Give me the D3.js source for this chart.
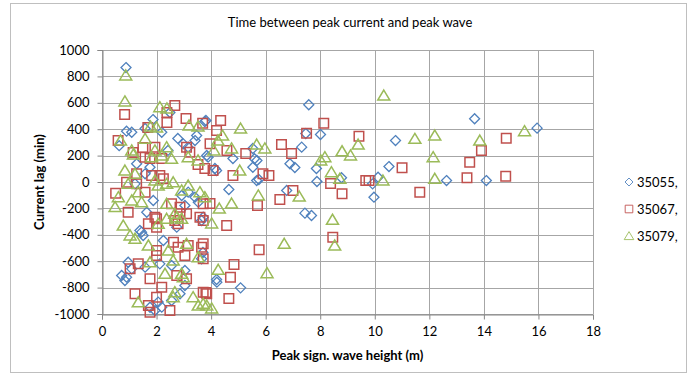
<!DOCTYPE html>
<html>
<head>
<meta charset="utf-8">
<script src="https://cdn.jsdelivr.net/npm/d3@7"></script>
<style>
  body { margin: 0; background: #fff; }
  text { font-family: Lato, "Open Sans", sans-serif; fill: #000; }
</style>
</head>
<body>
<svg id="chart" width="696" height="381"></svg>
<script>
// series values: [peak sign. wave height (m), current lag (min)]
const s35055 = [
  [7.58, 585], [7.47, 367], [8.01, 360], [7.32, 264], [5.53, 254], [5.59, 176], [5.68, 163],
  [4.80, 178], [4.20, 87], [5.53, 112], [5.67, 11], [5.75, 19], [6.89, 138], [7.07, 110],
  [7.86, 102], [7.88, 4], [6.77, -64], [4.65, -57], [7.44, -236], [7.68, -254], [4.20, -739],
  [4.21, -759], [5.08, -802], [3.70, -534], [3.81, 466], [13.66, 479], [15.95, 408], [10.76, 314],
  [10.52, 117], [10.12, 36], [9.92, -14], [9.97, -115], [12.63, 11], [14.09, 11], [8.78, 32],
  [0.88, 867], [2.49, 526], [1.87, 473], [2.19, 377], [0.90, 385], [1.09, 377], [1.58, 405],
  [0.63, 275], [2.78, 330], [3.47, 352], [3.84, 201], [4.14, 102], [2.42, 239], [3.77, 458],
  [3.41, 314], [2.98, 289], [3.16, 264], [1.58, 62], [1.76, 112], [1.27, 138], [3.16, -77],
  [3.41, -115], [3.53, -153], [3.04, -178], [3.89, 188], [1.21, -14], [1.64, -229], [1.39, -367],
  [1.51, -405], [2.74, -342], [3.65, -292], [2.25, -443], [0.96, -608], [3.65, -582], [0.72, -708],
  [0.84, -746], [1.09, -658], [1.58, -645], [2.12, -620], [2.55, -633], [3.04, -784], [2.86, -847],
  [2.55, -898], [1.76, -949], [1.94, -974], [1.88, -140], [1.45, -380], [2.92, -102], [3.71, -267],
  [0.90, -721], [3.04, -670], [2.06, -910], [2.19, -948]
];
const s35067 = [
  [4.35, 466], [4.20, 390], [3.96, 289], [4.58, 239], [5.27, 216], [6.58, 284], [6.95, 216],
  [7.50, 370], [8.13, 445], [4.07, 87], [4.80, 49], [5.90, 62], [6.12, 49], [7.00, -64],
  [6.52, -133], [5.70, -178], [3.96, -163], [4.57, -330], [5.76, -514], [4.84, -625], [4.71, -721],
  [4.65, -883], [3.81, -837], [3.71, -582], [3.71, -468], [8.38, -11], [8.46, -418], [9.42, 347],
  [13.91, 239], [14.82, 332], [13.48, 150], [11.00, 108], [9.67, 11], [9.79, 11], [13.38, 32],
  [14.80, 44], [11.65, -77], [8.80, -89], [0.83, 511], [2.67, 580], [2.38, 527], [2.38, 451],
  [3.08, 481], [1.68, 413], [3.69, 445], [0.59, 314], [3.10, 264], [3.52, 133], [3.77, 102],
  [1.14, 223], [1.50, 261], [1.76, 178], [2.19, 178], [1.94, 264], [1.58, 188], [3.22, 226],
  [0.50, -85], [1.27, -14], [1.82, 49], [2.12, 49], [1.58, -77], [2.55, -165], [2.25, 24],
  [0.96, -229], [1.70, -317], [2.00, -279], [2.00, -342], [2.67, -292], [2.86, -241], [2.79, -317],
  [3.59, -267], [2.00, -519], [2.79, -494], [3.16, -481], [3.65, -494], [1.33, -620], [3.04, -557],
  [1.03, -658], [1.21, -847], [1.76, -733], [2.00, -873], [2.19, -797], [2.74, -708], [3.10, -733],
  [1.76, -986], [2.49, -974], [1.70, -936], [0.90, -2], [1.27, 62], [1.94, -267], [2.86, -191],
  [3.10, -241], [3.71, -165], [3.71, -292], [3.84, -847], [2.62, -456], [2.00, -557], [3.71, -835]
];
const s35079 = [
  [5.08, 405], [4.42, 352], [4.10, 239], [4.75, 254], [5.67, 284], [5.97, 254], [5.05, 87],
  [5.73, -102], [7.23, -110], [4.75, -163], [4.30, -201], [4.02, -314], [6.68, -468], [6.05, -691],
  [4.26, -665], [3.84, -936], [4.02, -958], [8.17, 188], [8.02, 163], [8.41, 74], [8.45, -286],
  [8.53, -481], [10.33, 655], [11.47, 327], [12.20, 352], [13.85, 314], [15.49, 385], [8.80, 233],
  [9.11, 201], [9.39, 284], [12.14, 188], [12.20, 24], [10.30, 11], [8.72, 24], [0.87, 807],
  [0.84, 610], [2.12, 567], [2.38, 557], [1.78, 420], [2.00, 413], [3.19, 428], [3.52, 420],
  [0.68, 314], [4.25, 314], [1.94, 239], [1.58, 327], [2.37, 264], [1.09, 239], [1.15, 208],
  [1.82, 188], [2.19, 201], [2.55, 176], [0.84, 87], [1.21, 62], [0.96, -14], [1.33, -77],
  [1.94, 11], [2.06, -27], [2.37, -14], [2.61, -2], [3.59, -77], [3.77, -115], [2.92, -64],
  [3.16, -27], [0.48, -190], [0.60, -115], [1.09, -140], [3.16, 188], [3.52, 163], [0.78, -330],
  [1.03, -405], [1.21, -430], [1.70, -481], [2.06, -317], [2.37, -279], [2.74, -267], [2.92, -279],
  [2.43, -519], [2.61, -595], [3.10, -468], [1.76, -608], [3.53, -570], [1.33, -911], [2.31, -695],
  [2.98, -721], [2.67, -835], [3.34, -873], [3.53, -936], [2.37, -165], [2.67, -241], [2.92, -695],
  [2.61, -873], [3.71, -923], [1.45, -153]
];

const seriesNames = ["35055,", "35067,", "35079,"];
const xTicks = d3.range(0, 19, 2);
const yTicks = d3.range(-1000, 1001, 200);

const svg = d3.select("#chart");
const m = { left: 102, right: 593, top: 50, bottom: 314 };

const x = d3.scaleLinear().domain([0, 18]).range([m.left, m.right]);
const y = d3.scaleLinear().domain([-1000, 1000]).range([m.bottom, m.top]);

// outer chart border
svg.append("rect")
  .attr("x", 10.5).attr("y", 3.5)
  .attr("width", 676).attr("height", 369)
  .attr("fill", "none")
  .attr("stroke", "#bfbfbf");

svg.append("text")
  .attr("x", 350).attr("y", 27)
  .attr("text-anchor", "middle")
  .style("font-size", "13px")
  .text("Time between peak current and peak wave");

// gridlines
const grid = svg.append("g").attr("stroke", "#a6a6a6").attr("stroke-width", 1);
grid.selectAll("line.h").data(yTicks).join("line")
  .attr("x1", m.left).attr("x2", m.right)
  .attr("y1", d => Math.round(y(d)) + 0.5).attr("y2", d => Math.round(y(d)) + 0.5);
grid.selectAll("line.v").data(xTicks).join("line")
  .attr("y1", m.top).attr("y2", m.bottom)
  .attr("x1", d => Math.round(x(d)) + 0.5).attr("x2", d => Math.round(x(d)) + 0.5);

// axes
const yAxis = svg.append("g")
  .attr("transform", `translate(${m.left + 0.5},0)`)
  .call(d3.axisLeft(y).tickValues(yTicks).tickSize(5).tickPadding(8).tickFormat(d => String(d)));
const xAxis = svg.append("g")
  .attr("transform", `translate(0,${m.bottom + 0.5})`)
  .call(d3.axisBottom(x).tickValues(xTicks).tickSize(5).tickPadding(7).tickFormat(d => String(d)));
[yAxis, xAxis].forEach(a => {
  a.selectAll("path, line").attr("stroke", "#868686");
  a.selectAll("text").style("font-size", "13px").attr("fill", "#000")
    .style("font-family", "Lato, sans-serif");
});

svg.append("text")
  .attr("transform", `translate(44,${(m.top + m.bottom) / 2}) rotate(-90)`)
  .attr("text-anchor", "middle")
  .style("font-size", "13px").style("font-weight", "bold")
  .text("Current lag (min)");
svg.append("text")
  .attr("x", (m.left + m.right) / 2).attr("y", 360)
  .attr("text-anchor", "middle")
  .style("font-size", "13px").style("font-weight", "bold")
  .text("Peak sign. wave height (m)");

// marker shapes
const diamond = "M0,-5L5,0L0,5L-5,0Z";
const square = "M-4.75,-4.75H4.75V4.75H-4.75Z";
const triangle = "M0,-5.5L6,4.5H-6Z";
const styles = [
  { data: s35055, d: diamond, color: "#4f81bd", sw: 1.3 },
  { data: s35067, d: square, color: "#c0504d", sw: 1.5 },
  { data: s35079, d: triangle, color: "#9bbb59", sw: 1.5 }
];

styles.forEach(s => {
  svg.append("g").selectAll("path").data(s.data).join("path")
    .attr("d", s.d)
    .attr("transform", p => `translate(${x(p[0])},${y(p[1])})`)
    .attr("fill", "none")
    .attr("stroke", s.color)
    .attr("stroke-width", s.sw);
});

// legend
const legend = svg.append("g");
styles.forEach((s, i) => {
  const ly = 182 + i * 27;
  legend.append("path")
    .attr("d", s.d)
    .attr("transform", `translate(629,${ly}) scale(0.8)`)
    .attr("fill", "none").attr("stroke", s.color).attr("stroke-width", 1.1);
  legend.append("text")
    .attr("x", 637).attr("y", ly + 5)
    .style("font-size", "13px")
    .text(seriesNames[i]);
});
</script>
</body>
</html>
